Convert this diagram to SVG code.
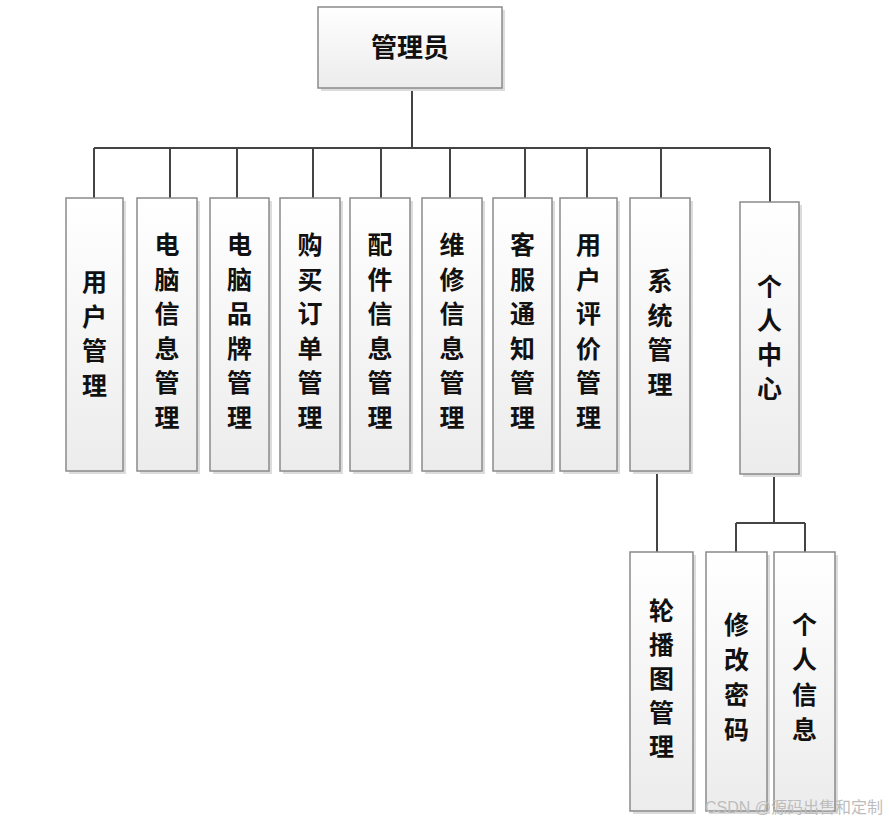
<svg xmlns="http://www.w3.org/2000/svg" width="889" height="823" viewBox="0 0 889 823">
<defs>
<linearGradient id="g" x1="0" y1="0" x2="0" y2="1">
<stop offset="0" stop-color="#ffffff"/>
<stop offset="1" stop-color="#ececec"/>
</linearGradient>
<style>
.box{fill:url(#g);stroke:#8a8a8a;stroke-width:1.5}
.sh{fill:#dcdcdc}
.t{font-family:"Noto Sans CJK SC","Noto Sans",sans-serif;font-size:25px;font-weight:bold;fill:#111;text-anchor:middle}
.r{font-size:26px}
.c{fill:none;stroke:#444;stroke-width:2}
.wm{font-family:"Liberation Sans","Noto Sans CJK SC",sans-serif;font-size:16px;fill:#bdbdbd}
</style>
</defs>
<rect width="889" height="823" fill="#ffffff"/>
<g id="connectors">
<path class="c" d="M412 88V148M94 148H770M94 148V198M170 148V198M237 148V198M313 148V198M381 148V198M450 148V198M525 148V198M587 148V198M661 148V198M770 148V202"/>
<path class="c" d="M657 471V552"/>
<path class="c" d="M774 474V523M736 523H805M736 523V552M805 523V552"/>
</g>
<g id="root">
<rect class="sh" x="321" y="10" width="184" height="81"/>
<rect class="box" x="318" y="7" width="184" height="81"/>
<text class="t r" x="410" y="57">管理员</text>
</g>
<g id="n1">
<rect class="sh" x="69" y="201" width="57" height="273"/>
<rect class="box" x="66" y="198" width="57" height="273"/>
<text class="t"><tspan x="94.5" y="291">用</tspan><tspan x="94.5" y="325.6">户</tspan><tspan x="94.5" y="360.2">管</tspan><tspan x="94.5" y="394.8">理</tspan></text>
</g>
<g id="n2">
<rect class="sh" x="140" y="201" width="60" height="273"/>
<rect class="box" x="137" y="198" width="60" height="273"/>
<text class="t"><tspan x="167" y="254">电</tspan><tspan x="167" y="288.6">脑</tspan><tspan x="167" y="323.2">信</tspan><tspan x="167" y="357.8">息</tspan><tspan x="167" y="392.4">管</tspan><tspan x="167" y="427">理</tspan></text>
</g>
<g id="n3">
<rect class="sh" x="213" y="201" width="59" height="273"/>
<rect class="box" x="210" y="198" width="59" height="273"/>
<text class="t"><tspan x="239.5" y="254">电</tspan><tspan x="239.5" y="288.6">脑</tspan><tspan x="239.5" y="323.2">品</tspan><tspan x="239.5" y="357.8">牌</tspan><tspan x="239.5" y="392.4">管</tspan><tspan x="239.5" y="427">理</tspan></text>
</g>
<g id="n4">
<rect class="sh" x="283" y="201" width="60" height="273"/>
<rect class="box" x="280" y="198" width="60" height="273"/>
<text class="t"><tspan x="310" y="254">购</tspan><tspan x="310" y="288.6">买</tspan><tspan x="310" y="323.2">订</tspan><tspan x="310" y="357.8">单</tspan><tspan x="310" y="392.4">管</tspan><tspan x="310" y="427">理</tspan></text>
</g>
<g id="n5">
<rect class="sh" x="353" y="201" width="60" height="273"/>
<rect class="box" x="350" y="198" width="60" height="273"/>
<text class="t"><tspan x="380" y="254">配</tspan><tspan x="380" y="288.6">件</tspan><tspan x="380" y="323.2">信</tspan><tspan x="380" y="357.8">息</tspan><tspan x="380" y="392.4">管</tspan><tspan x="380" y="427">理</tspan></text>
</g>
<g id="n6">
<rect class="sh" x="425" y="201" width="60" height="273"/>
<rect class="box" x="422" y="198" width="60" height="273"/>
<text class="t"><tspan x="452" y="254">维</tspan><tspan x="452" y="288.6">修</tspan><tspan x="452" y="323.2">信</tspan><tspan x="452" y="357.8">息</tspan><tspan x="452" y="392.4">管</tspan><tspan x="452" y="427">理</tspan></text>
</g>
<g id="n7">
<rect class="sh" x="496" y="201" width="59" height="273"/>
<rect class="box" x="493" y="198" width="59" height="273"/>
<text class="t"><tspan x="522.5" y="254">客</tspan><tspan x="522.5" y="288.6">服</tspan><tspan x="522.5" y="323.2">通</tspan><tspan x="522.5" y="357.8">知</tspan><tspan x="522.5" y="392.4">管</tspan><tspan x="522.5" y="427">理</tspan></text>
</g>
<g id="n8">
<rect class="sh" x="563" y="201" width="57" height="273"/>
<rect class="box" x="560" y="198" width="57" height="273"/>
<text class="t"><tspan x="588.5" y="254">用</tspan><tspan x="588.5" y="288.6">户</tspan><tspan x="588.5" y="323.2">评</tspan><tspan x="588.5" y="357.8">价</tspan><tspan x="588.5" y="392.4">管</tspan><tspan x="588.5" y="427">理</tspan></text>
</g>
<g id="n9">
<rect class="sh" x="633" y="201" width="60" height="273"/>
<rect class="box" x="630" y="198" width="60" height="273"/>
<text class="t"><tspan x="660" y="290">系</tspan><tspan x="660" y="324.6">统</tspan><tspan x="660" y="359.2">管</tspan><tspan x="660" y="393.8">理</tspan></text>
</g>
<g id="n10">
<rect class="sh" x="743" y="205" width="59" height="272"/>
<rect class="box" x="740" y="202" width="59" height="272"/>
<text class="t"><tspan x="769.5" y="296">个</tspan><tspan x="769.5" y="330">人</tspan><tspan x="769.5" y="364">中</tspan><tspan x="769.5" y="398">心</tspan></text>
</g>
<g id="n11">
<rect class="sh" x="633" y="555" width="63" height="259"/>
<rect class="box" x="630" y="552" width="63" height="259"/>
<text class="t"><tspan x="661.5" y="620">轮</tspan><tspan x="661.5" y="654">播</tspan><tspan x="661.5" y="688">图</tspan><tspan x="661.5" y="722">管</tspan><tspan x="661.5" y="756">理</tspan></text>
</g>
<g id="n12">
<rect class="sh" x="709" y="555" width="61" height="259"/>
<rect class="box" x="706" y="552" width="61" height="259"/>
<text class="t"><tspan x="736.5" y="634">修</tspan><tspan x="736.5" y="669">改</tspan><tspan x="736.5" y="704">密</tspan><tspan x="736.5" y="739">码</tspan></text>
</g>
<g id="n13">
<rect class="sh" x="777" y="555" width="61" height="259"/>
<rect class="box" x="774" y="552" width="61" height="259"/>
<text class="t"><tspan x="804.5" y="634">个</tspan><tspan x="804.5" y="669">人</tspan><tspan x="804.5" y="704">信</tspan><tspan x="804.5" y="739">息</tspan></text>
</g>
<text class="wm" x="705" y="813">CSDN @源码出售和定制</text>
</svg>
